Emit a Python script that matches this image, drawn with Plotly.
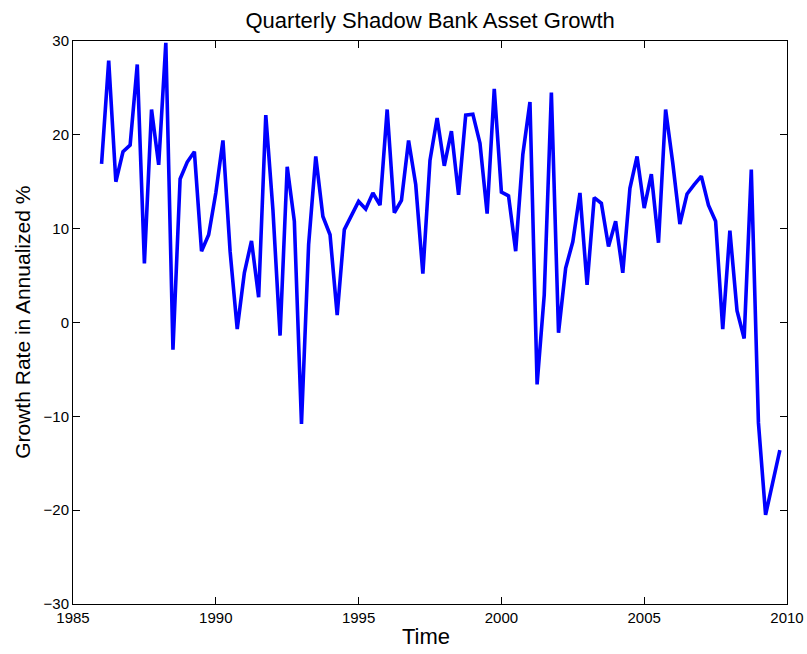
import numpy as np
import plotly.graph_objects as go

# Quarterly observations, 1986Q1 through 2009Q4
start_year = 1986
growth = [
    16.9, 27.9, 15.0, 18.2,    # 1986
    18.9, 27.5, 6.3, 22.7,     # 1987
    16.8, 29.8, -2.9, 15.3,    # 1988
    17.1, 18.2, 7.6, 9.35,     # 1989
    13.8, 19.4, 7.6, -0.7,     # 1990
    5.3, 8.7, 2.7, 22.1,       # 1991
    12.0, -1.4, 16.6, 10.8,    # 1992
    -10.8, 8.3, 17.7, 11.3,    # 1993
    9.35, 0.8, 9.9, 11.3,      # 1994
    12.9, 12.1, 13.8, 12.5,    # 1995
    22.7, 11.7, 13.0, 19.4,    # 1996
    14.7, 5.2, 17.3, 21.8,     # 1997
    16.7, 20.4, 13.6, 22.1,    # 1998
    22.2, 19.1, 11.6, 24.9,    # 1999
    13.9, 13.5, 7.6, 17.9,     # 2000
    23.5, -6.6, 2.95, 24.5,    # 2001
    -1.1, 5.8, 8.6, 13.8,      # 2002
    4.0, 13.3, 12.7, 8.1,      # 2003
    10.8, 5.3, 14.3, 17.7,     # 2004
    12.2, 15.8, 8.5, 22.7,     # 2005
    17.0, 10.5, 13.7, 14.7,    # 2006
    15.6, 12.5, 10.8, -0.7,    # 2007
    9.8, 1.25, -1.7, 16.3,     # 2008
    -10.7, -20.5, -17.0, -13.6 # 2009
]
time = start_year + np.arange(len(growth)) * 0.25

x_ticks = [1985, 1990, 1995, 2000, 2005, 2010]
y_ticks = [-30, -20, -10, 0, 10, 20, 30]

font_family = "Liberation Sans, Arial, Helvetica, sans-serif"

fig = go.Figure()
fig.add_trace(go.Scatter(
    x=time, y=growth, mode="lines",
    line=dict(color="#0000FF", width=3.6),
    showlegend=False,
))

axis_common = dict(
    showline=True, linecolor="black", linewidth=1,
    mirror="allticks", ticks="inside", ticklen=7, tickwidth=1,
    tickcolor="black", showgrid=False, zeroline=False, automargin=False,
    tickfont=dict(family=font_family, size=15, color="black"),
)

fig.update_layout(
    width=807, height=654,
    margin=dict(l=73, r=20, t=41, b=50),
    paper_bgcolor="white", plot_bgcolor="white",
    title=dict(
        text="Quarterly Shadow Bank Asset Growth",
        x=0.533, xanchor="center", y=0.969, yanchor="middle",
        font=dict(family=font_family, size=22, color="black"),
    ),
    xaxis=dict(range=[1985, 2010], tickvals=x_ticks, **axis_common),
    yaxis=dict(range=[-30, 30], tickvals=y_ticks, **axis_common),
    annotations=[
        dict(text="Time", xref="paper", yref="paper", x=0.495, y=-0.058,
             xanchor="center", yanchor="middle", showarrow=False,
             font=dict(family=font_family, size=22, color="black")),
        dict(text="Growth Rate in Annualized %", xref="paper", yref="paper",
             x=-0.071, y=0.5, xanchor="center", yanchor="middle",
             textangle=-90, showarrow=False,
             font=dict(family=font_family, size=21, color="black")),
    ],
)

fig.write_html("out.html")
